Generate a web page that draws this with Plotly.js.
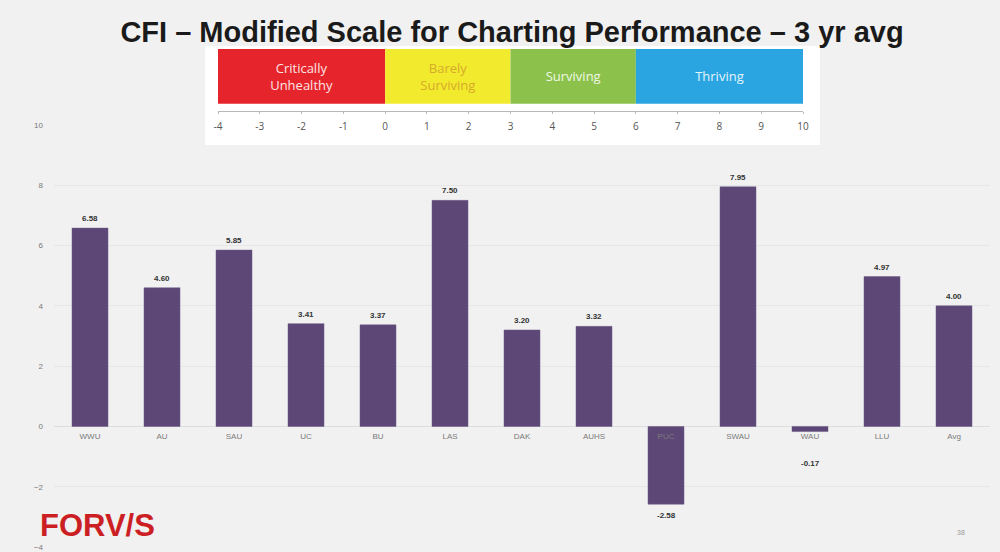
<!DOCTYPE html>
<html>
<head>
<meta charset="utf-8">
<script src="https://cdn.plot.ly/plotly-3.0.1.min.js"></script>
<style>
html,body{margin:0;padding:0;background:#f1f1f1;}
#chart{width:1000px;height:552px;}
</style>
</head>
<body>
<div id="chart"></div>
<script>
// ---- data ----
const categories = ['WWU','AU','SAU','UC','BU','LAS','DAK','AUHS','PUC','SWAU','WAU','LLU','Avg'];
const values = [6.58, 4.60, 5.85, 3.41, 3.37, 7.50, 3.20, 3.32, -2.58, 7.95, -0.17, 4.97, 4.00];
const yTicks = [-4, -2, 0, 2, 4, 6, 8, 10];

const bandLabels = ['Critically<br>Unhealthy', 'Barely<br>Surviving', 'Surviving', 'Thriving'];
const bandStart = [-4, 0, 3, 6];
const bandEnd = [0, 3, 6, 10];
const scaleTicks = [-4, -3, -2, -1, 0, 1, 2, 3, 4, 5, 6, 7, 8, 9, 10];

const titleText = 'CFI \u2013 Modified Scale for Charting Performance \u2013 3 yr avg';
const logoText = 'FORV/S';
const pageText = '38';

// ---- styles ----
const bandColors = ['#e5242b', '#f2ea2c', '#8cc24c', '#2aa5e1'];
const bandTextColors = ['#fde4e4', '#d6ab2c', '#f0f8e6', '#e6f4fc'];

const W = 1000, H = 552;
const mL = 54, mR = 10, mT = 40, mB = 5;
const plotH = H - mT - mB;
const yRange = [yTicks[0], yTicks[yTicks.length - 1]];
const yDomTop = (H - mB - 125) / plotH; // main axis top at ~125px
const zeroPos = yDomTop * (0 - yRange[0]) / (yRange[1] - yRange[0]);
const pxPerUnit = yDomTop * plotH / (yRange[1] - yRange[0]);

function px2fx(px) { return (px - mL) / (W - mL - mR); }
function py2fy(py) { return (H - mB - py) / plotH; }

const mainTrace = {
  type: 'bar',
  x: categories,
  y: values,
  marker: { color: '#5d4776', line: { color: '#6f5a88', width: 0.5 } },
  hoverinfo: 'x+y',
  xaxis: 'x',
  yaxis: 'y'
};

const bandTrace = {
  type: 'bar',
  orientation: 'h',
  y: bandLabels.map(() => 0),
  x: bandEnd.map((e, i) => e - bandStart[i]),
  base: bandStart,
  width: 1,
  marker: { color: bandColors, line: { width: 0 } },
  text: bandLabels,
  textposition: 'inside',
  insidetextanchor: 'middle',
  constraintext: 'none',
  textangle: 0,
  textfont: { family: 'Open Sans, Noto Sans, sans-serif', size: 13, color: bandTextColors },
  hoverinfo: 'skip',
  xaxis: 'x2',
  yaxis: 'y2'
};

// value labels placed at each bar's end through the data axes
const valueLabels = categories.map((c, i) => {
  const v = values[i];
  const neg = v < 0;
  const clearance = neg ? Math.max(0, 26 - Math.abs(v) * pxPerUnit) : 0;
  return {
    xref: 'x', yref: 'y',
    x: c, y: v,
    text: '<b>' + v.toFixed(2) + '</b>',
    showarrow: false,
    xanchor: 'center',
    yanchor: neg ? 'top' : 'bottom',
    yshift: neg ? -(5 + clearance) : 3,
    font: { family: 'Liberation Sans, Arial, sans-serif', size: 8, color: '#333' }
  };
});

const layout = {
  width: W,
  height: H,
  margin: { l: mL, r: mR, t: mT, b: mB },
  paper_bgcolor: '#f1f1f1',
  plot_bgcolor: 'rgba(0,0,0,0)',
  showlegend: false,
  bargap: 0.5,
  title: {
    text: '<b>' + titleText + '</b>',
    font: { family: 'Liberation Sans Narrow, Arial Narrow, Liberation Sans, Arial, sans-serif', size: 29, color: '#1a1a1a' },
    x: 0.512, xanchor: 'center',
    xref: 'container', yref: 'container',
    y: 1 - 32 / H, yanchor: 'middle'
  },
  xaxis: {
    type: 'category',
    domain: [0, 1],
    anchor: 'free',
    position: zeroPos,
    showgrid: false,
    showline: false,
    zeroline: false,
    ticks: '',
    ticklabelstandoff: 4,
    tickfont: { family: 'Liberation Sans, Arial, sans-serif', size: 8, color: '#7a7a7a' },
    fixedrange: true
  },
  yaxis: {
    domain: [0, yDomTop],
    range: yRange,
    tickvals: yTicks,
    ticks: '',
    ticklabelstandoff: 10,
    tickfont: { family: 'Liberation Sans, Arial, sans-serif', size: 8, color: '#7a7a7a' },
    showgrid: true,
    gridcolor: '#e6e6e6',
    gridwidth: 1,
    zeroline: true,
    zerolinecolor: '#dddddd',
    zerolinewidth: 1,
    showline: false,
    fixedrange: true
  },
  xaxis2: {
    domain: [px2fx(218), px2fx(803)],
    anchor: 'y2',
    range: [scaleTicks[0], scaleTicks[scaleTicks.length - 1]],
    tickvals: scaleTicks,
    ticktext: scaleTicks.map(String),
    showgrid: false,
    zeroline: false,
    showline: true,
    linecolor: '#b8b8b8',
    linewidth: 1,
    ticks: 'outside',
    ticklen: 2,
    tickcolor: '#b8b8b8',
    ticklabelstandoff: 4,
    tickfont: { family: 'Open Sans, Noto Sans, sans-serif', size: 10, color: '#555' },
    fixedrange: true
  },
  yaxis2: {
    domain: [py2fy(111), py2fy(49)],
    anchor: 'x2',
    range: [-0.63, 0.5],
    showticklabels: false,
    showgrid: false,
    zeroline: false,
    ticks: '',
    fixedrange: true
  },
  shapes: [
    {
      type: 'rect', layer: 'below',
      xref: 'paper', yref: 'paper',
      x0: px2fx(205), x1: px2fx(820), y0: py2fy(145), y1: py2fy(46),
      fillcolor: '#ffffff', line: { width: 0 }
    }
  ],
  annotations: valueLabels.concat([
    {
      text: '<b>' + logoText + '</b>',
      xref: 'paper', yref: 'paper',
      x: px2fx(38), xanchor: 'left',
      y: py2fy(525), yanchor: 'middle',
      showarrow: false,
      font: { family: 'Liberation Sans, Arial, sans-serif', size: 31, color: '#cc1f24' }
    },
    {
      text: pageText,
      xref: 'paper', yref: 'paper',
      x: px2fx(961), xanchor: 'center',
      y: py2fy(532), yanchor: 'middle',
      showarrow: false,
      font: { family: 'Liberation Sans, Arial, sans-serif', size: 7, color: '#999' }
    }
  ])
};

Plotly.newPlot('chart', [mainTrace, bandTrace], layout, { displayModeBar: false, staticPlot: true });
</script>
</body>
</html>
